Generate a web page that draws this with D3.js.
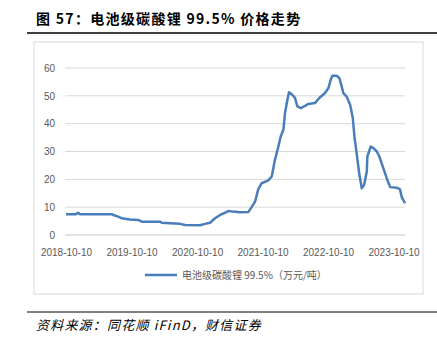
<!DOCTYPE html>
<html><head><meta charset="utf-8">
<script src="https://cdn.jsdelivr.net/npm/d3@7/dist/d3.min.js"></script>
<style>
body{margin:0;background:#fff;}
svg{display:block;}
</style></head>
<body>
<svg id="c" width="437" height="343"></svg>
<script>
const title = "图 57：电池级碳酸锂 99.5% 价格走势";
const source = "资料来源：同花顺 iFinD，财信证券";
const seriesName = "电池级碳酸锂 99.5%（万元/吨）";
const dates = ["2018-10-10","2018-12-05","2018-12-16","2018-12-27","2019-06-23","2019-06-30","2019-07-29","2019-08-17","2019-10-02","2019-11-17","2019-12-06","2020-03-17","2020-03-27","2020-05-12","2020-07-07","2020-08-04","2020-10-26","2020-11-23","2020-12-21","2021-01-18","2021-02-15","2021-03-15","2021-04-02","2021-04-28","2021-06-06","2021-07-23","2021-08-10","2021-08-29","2021-09-16","2021-10-05","2021-11-11","2021-11-30","2021-12-18","2022-01-06","2022-01-19","2022-02-03","2022-02-12","2022-02-22","2022-03-06","2022-03-25","2022-04-09","2022-04-22","2022-05-11","2022-06-04","2022-06-22","2022-07-29","2022-08-22","2022-09-23","2022-10-12","2022-10-25","2022-11-03","2022-11-27","2022-12-12","2022-12-25","2023-01-03","2023-01-22","2023-02-10","2023-02-25","2023-03-06","2023-03-19","2023-04-02","2023-04-16","2023-04-29","2023-05-14","2023-05-17","2023-06-05","2023-06-20","2023-07-09","2023-07-23","2023-08-14","2023-09-02","2023-09-21","2023-10-28","2023-11-15","2023-11-25","2023-12-13"];
const prices = [7.5,7.5,8.0,7.5,7.5,7.2,6.6,6.0,5.6,5.4,4.8,4.8,4.4,4.2,4.0,3.6,3.5,4.0,4.4,6.0,7.2,8.0,8.6,8.4,8.2,8.3,10.0,12.0,16.5,18.6,19.6,21.0,27.0,31.8,35.4,37.8,43.8,47.4,51.3,50.4,49.2,46.2,45.6,46.4,47.1,47.4,49.2,51.0,52.8,55.8,57.2,57.2,56.4,53.4,51.0,49.7,46.8,42.0,35.4,29.0,22.0,16.8,18.0,22.8,28.2,31.8,31.2,30.0,28.2,24.0,20.4,17.2,17.0,16.4,13.6,11.4];
const xTicks = ["2018-10-10","2019-10-10","2020-10-10","2021-10-10","2022-10-10","2023-10-10"];
const yTicks = [0,10,20,30,40,50,60];

const parse = d3.timeParse("%Y-%m-%d");
const data = dates.map((d,i)=>({date:parse(d), v:prices[i]}));
const svg = d3.select("#c");

// title
svg.append("text").attr("x",36).attr("y",24).attr("font-family","'Noto Sans CJK SC', sans-serif")
  .attr("font-weight","bold").attr("font-size",14).attr("letter-spacing",1.3).attr("fill","#000").text(title);
svg.append("line").attr("x1",27).attr("x2",437).attr("y1",33).attr("y2",33).attr("stroke","#000").attr("stroke-width",1.5);

// chart box
svg.append("rect").attr("x",34).attr("y",42).attr("width",389).attr("height",252).attr("fill","#fff").attr("stroke","#d9d9d9").attr("stroke-width",1);

const x = d3.scaleTime().domain([parse(dates[0]), parse(dates[dates.length-1])]).range([66,405]);
const y = d3.scaleLinear().domain([0,60]).range([235,68]);

// grid
svg.append("g").selectAll("line").data(yTicks).join("line")
  .attr("x1",65).attr("x2",405).attr("y1",d=>y(d)).attr("y2",d=>y(d))
  .attr("stroke","#d9d9d9").attr("stroke-width",1);

// y axis labels
const ya = svg.append("g").attr("transform","translate(65,0)")
  .call(d3.axisLeft(y).tickValues(yTicks).tickSize(0).tickPadding(10));
ya.select(".domain").remove();
ya.selectAll("text").attr("font-family","'Liberation Sans', Arial, sans-serif").attr("font-size",10).attr("fill","#595959");

// x axis
const xa = svg.append("g").attr("transform","translate(0,235)")
  .call(d3.axisBottom(x).tickValues(xTicks.map(parse)).tickFormat(d3.timeFormat("%Y-%m-%d")).tickSize(0).tickPadding(10));
xa.select(".domain").attr("stroke","#d9d9d9").attr("d","M65,0H405");
xa.selectAll("text").attr("font-family","'Liberation Sans', Arial, sans-serif").attr("font-size",10).attr("fill","#595959").attr("dy","1.05em");

// line
svg.append("path").datum(data).attr("fill","none").attr("stroke","#4a7ebb").attr("stroke-width",2.5)
  .attr("stroke-linejoin","round")
  .attr("d", d3.line().x(d=>x(d.date)).y(d=>y(d.v)));

// legend
svg.append("line").attr("x1",145).attr("x2",177).attr("y1",275).attr("y2",275).attr("stroke","#4a7ebb").attr("stroke-width",2.5);
svg.append("text").attr("x",182).attr("y",279).attr("font-family","'Noto Sans CJK SC', sans-serif")
  .attr("font-size",10).attr("fill","#595959").text(seriesName);

// footer
svg.append("line").attr("x1",27).attr("x2",437).attr("y1",312).attr("y2",312).attr("stroke","#000").attr("stroke-width",1);
svg.append("text").attr("x",36).attr("y",330).attr("font-family","'Noto Sans CJK SC', serif")
  .attr("font-style","italic").attr("font-size",13).attr("letter-spacing",1.2).attr("fill","#000").text(source);
</script>
</body></html>
